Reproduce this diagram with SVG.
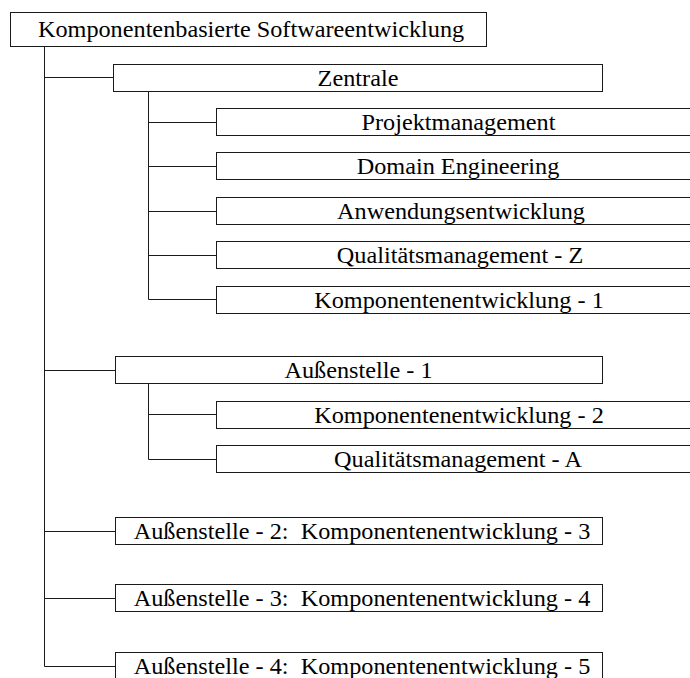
<svg xmlns="http://www.w3.org/2000/svg" width="690" height="678" viewBox="0 0 690 678">
  <style>
    .box { fill: #ffffff; stroke: #1a1a1a; stroke-width: 1; }
    .lbl { font-family: "Liberation Serif", "Times New Roman", serif; font-size: 23px; fill: #000000; text-anchor: middle; white-space: pre; }
    .edge { fill: none; stroke: #1a1a1a; stroke-width: 1; }
  </style>
  <rect width="690" height="678" fill="#ffffff"/>

  <!-- tree connectors -->
  <g id="connectors">
    <path class="edge" d="M44.5 46.5 V666.5"/>
    <path class="edge" d="M44.5 77.5 H113.5"/>
    <path class="edge" d="M44.5 370.5 H115.5"/>
    <path class="edge" d="M44.5 531.5 H115.5"/>
    <path class="edge" d="M44.5 598.5 H115.5"/>
    <path class="edge" d="M44.5 666.5 H115.5"/>
    <path class="edge" d="M148.5 91.5 V299.5"/>
    <path class="edge" d="M148.5 122.5 H216.5"/>
    <path class="edge" d="M148.5 166.5 H216.5"/>
    <path class="edge" d="M148.5 211.5 H216.5"/>
    <path class="edge" d="M148.5 255.5 H216.5"/>
    <path class="edge" d="M148.5 299.5 H216.5"/>
    <path class="edge" d="M148.5 383.5 V459.5"/>
    <path class="edge" d="M148.5 414.5 H216.5"/>
    <path class="edge" d="M148.5 459.5 H216.5"/>
  </g>

  <!-- labels are set slightly widened horizontally -->
  <g id="root">
    <rect class="box" x="10.5" y="12.5" width="476" height="34"/>
    <text class="lbl" transform="translate(251 36.5) scale(1.055 1)">Komponentenbasierte Softwareentwicklung</text>
  </g>

  <g id="zentrale">
    <rect class="box" x="113.5" y="64.5" width="489" height="27"/>
    <text class="lbl" transform="translate(358 85.5) scale(1.055 1)">Zentrale</text>
  </g>
  <g id="projektmanagement">
    <rect class="box" x="216.5" y="108.5" width="490" height="27"/>
    <text class="lbl" transform="translate(458.5 129.5) scale(1.055 1)">Projektmanagement</text>
  </g>
  <g id="domain-engineering">
    <rect class="box" x="216.5" y="152.5" width="490" height="27"/>
    <text class="lbl" transform="translate(458 173.5) scale(1.055 1)">Domain Engineering</text>
  </g>
  <g id="anwendungsentwicklung">
    <rect class="box" x="216.5" y="197.5" width="490" height="27"/>
    <text class="lbl" transform="translate(461 218.5) scale(1.055 1)">Anwendungsentwicklung</text>
  </g>
  <g id="qm-z">
    <rect class="box" x="216.5" y="241.5" width="490" height="27"/>
    <text class="lbl" transform="translate(460 262.5) scale(1.055 1)">Qualitätsmanagement - Z</text>
  </g>
  <g id="ke-1">
    <rect class="box" x="216.5" y="286.5" width="490" height="27"/>
    <text class="lbl" transform="translate(459 307.5) scale(1.055 1)">Komponentenentwicklung - 1</text>
  </g>

  <g id="aussenstelle-1">
    <rect class="box" x="115.5" y="356.5" width="487" height="27"/>
    <text class="lbl" transform="translate(358.5 377.5) scale(1.055 1)">Außenstelle - 1</text>
  </g>
  <g id="ke-2">
    <rect class="box" x="216.5" y="401.5" width="490" height="27"/>
    <text class="lbl" transform="translate(459 422.5) scale(1.055 1)">Komponentenentwicklung - 2</text>
  </g>
  <g id="qm-a">
    <rect class="box" x="216.5" y="445.5" width="490" height="27"/>
    <text class="lbl" transform="translate(458 466.5) scale(1.055 1)">Qualitätsmanagement - A</text>
  </g>

  <g id="aussenstelle-2">
    <rect class="box" x="115.5" y="517.5" width="487" height="27"/>
    <text class="lbl" transform="translate(362 538.5) scale(1.055 1)">Außenstelle - 2:  Komponentenentwicklung - 3</text>
  </g>
  <g id="aussenstelle-3">
    <rect class="box" x="115.5" y="584.5" width="487" height="27"/>
    <text class="lbl" transform="translate(362 605.5) scale(1.055 1)">Außenstelle - 3:  Komponentenentwicklung - 4</text>
  </g>
  <g id="aussenstelle-4">
    <rect class="box" x="115.5" y="652.5" width="487" height="27"/>
    <text class="lbl" transform="translate(362 673.5) scale(1.055 1)">Außenstelle - 4:  Komponentenentwicklung - 5</text>
  </g>
</svg>
